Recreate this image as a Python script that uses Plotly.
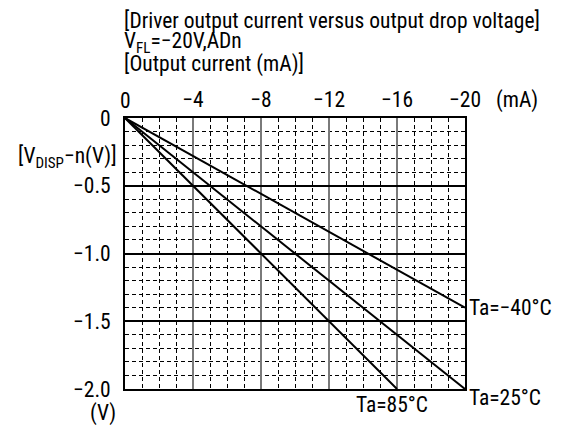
import plotly.graph_objects as go

# Data (current in mA, voltage drop in V)
series_names = ["Ta=−40°C", "Ta=25°C", "Ta=85°C"]
current_m40 = [0, -20]
voltage_m40 = [0, -1.4]
current_25 = [0, -20]
voltage_25 = [0, -2.0]
current_85 = [0, -16]
voltage_85 = [0, -2.0]

x_ticks = [0, -4, -8, -12, -16, -20]
x_ticktext = ["0", "−4", "−8", "−12", "−16", "−20"]
y_ticks = [0, -0.5, -1.0, -1.5, -2.0]
y_ticktext = ["0", "−0.5", "−1.0", "−1.5", "−2.0"]

FONT = "Roboto Condensed, Roboto, sans-serif"
FS = 21.5

fig = go.Figure()
for xs, ys, name in [(current_m40, voltage_m40, series_names[0]),
                     (current_25, voltage_25, series_names[1]),
                     (current_85, voltage_85, series_names[2])]:
    fig.add_trace(go.Scatter(x=xs, y=ys, mode="lines", name=name,
                             line=dict(color="black", width=2), showlegend=False))

# the page body adds an 8px margin, so the figure is 8px smaller and margins shifted
fig.update_layout(
    width=558, height=419,
    margin=dict(l=117, r=101, t=110, b=38),
    paper_bgcolor="white", plot_bgcolor="white",
    font=dict(family=FONT, size=FS, color="black"),
    showlegend=False,
)

fig.update_xaxes(
    range=[0, -20], side="top",
    tickvals=x_ticks[1:], ticktext=x_ticktext[1:],
    ticks="", ticklabelstandoff=0,
    showgrid=True, gridcolor="#7a7a7a", gridwidth=2,
    minor=dict(dtick=1, showgrid=True, griddash="4px,3px", gridcolor="black", gridwidth=1, ticks=""),
    showline=True, linecolor="black", linewidth=2, mirror=True,
    zeroline=False, automargin=False,
    tickfont=dict(family=FONT, size=FS),
)
fig.update_yaxes(
    range=[-2.0, 0],
    tickvals=y_ticks, ticktext=y_ticktext,
    ticks="", ticklabelstandoff=8,
    showgrid=True, gridcolor="black", gridwidth=1.5,
    minor=dict(dtick=0.1, showgrid=True, griddash="4px,3px", gridcolor="black", gridwidth=1, ticks=""),
    showline=True, linecolor="black", linewidth=2, mirror=True,
    zeroline=False, automargin=False,
    tickfont=dict(family=FONT, size=FS),
)

ann = []
def txt(x, y, t, xa="left", ya="middle", xref="paper", yref="paper", xshift=0, yshift=0):
    ann.append(dict(x=x, y=y, xref=xref, yref=yref, text=t, showarrow=False,
                    xanchor=xa, yanchor=ya, xshift=xshift, yshift=yshift,
                    font=dict(family=FONT, size=FS, color="black")))

# page pixel -> paper coords (plot area spans x 125..465, y 118..389 on the page)
def px(xp): return (xp - 125) / 340
def py(yp): return (389 - yp) / 271

txt(px(122), py(20), "[Driver output current versus output drop voltage]")
txt(px(122), py(42), "V<sub>FL</sub>=−20V,ADn")
txt(px(122), py(64), "[Output current (mA)]")
txt(px(125), py(100), "0", xa="center")
txt(px(494), py(100), "(mA)")
txt(px(119), py(157), "[V<sub>DISP</sub>−n(V)]", xa="right")
txt(px(118), py(413), "(V)", xa="right")

# Series labels at line ends (data coords)
txt(-20, -1.4, series_names[0], xref="x", yref="y", xshift=2)
txt(-20, -2.0, series_names[1], xref="x", yref="y", xshift=2, yshift=-8)
txt(-16, -2.0, series_names[2], xa="center", ya="top", xref="x", yref="y", xshift=-5, yshift=-1)

fig.update_layout(annotations=ann)
fig.write_html("out.html")
